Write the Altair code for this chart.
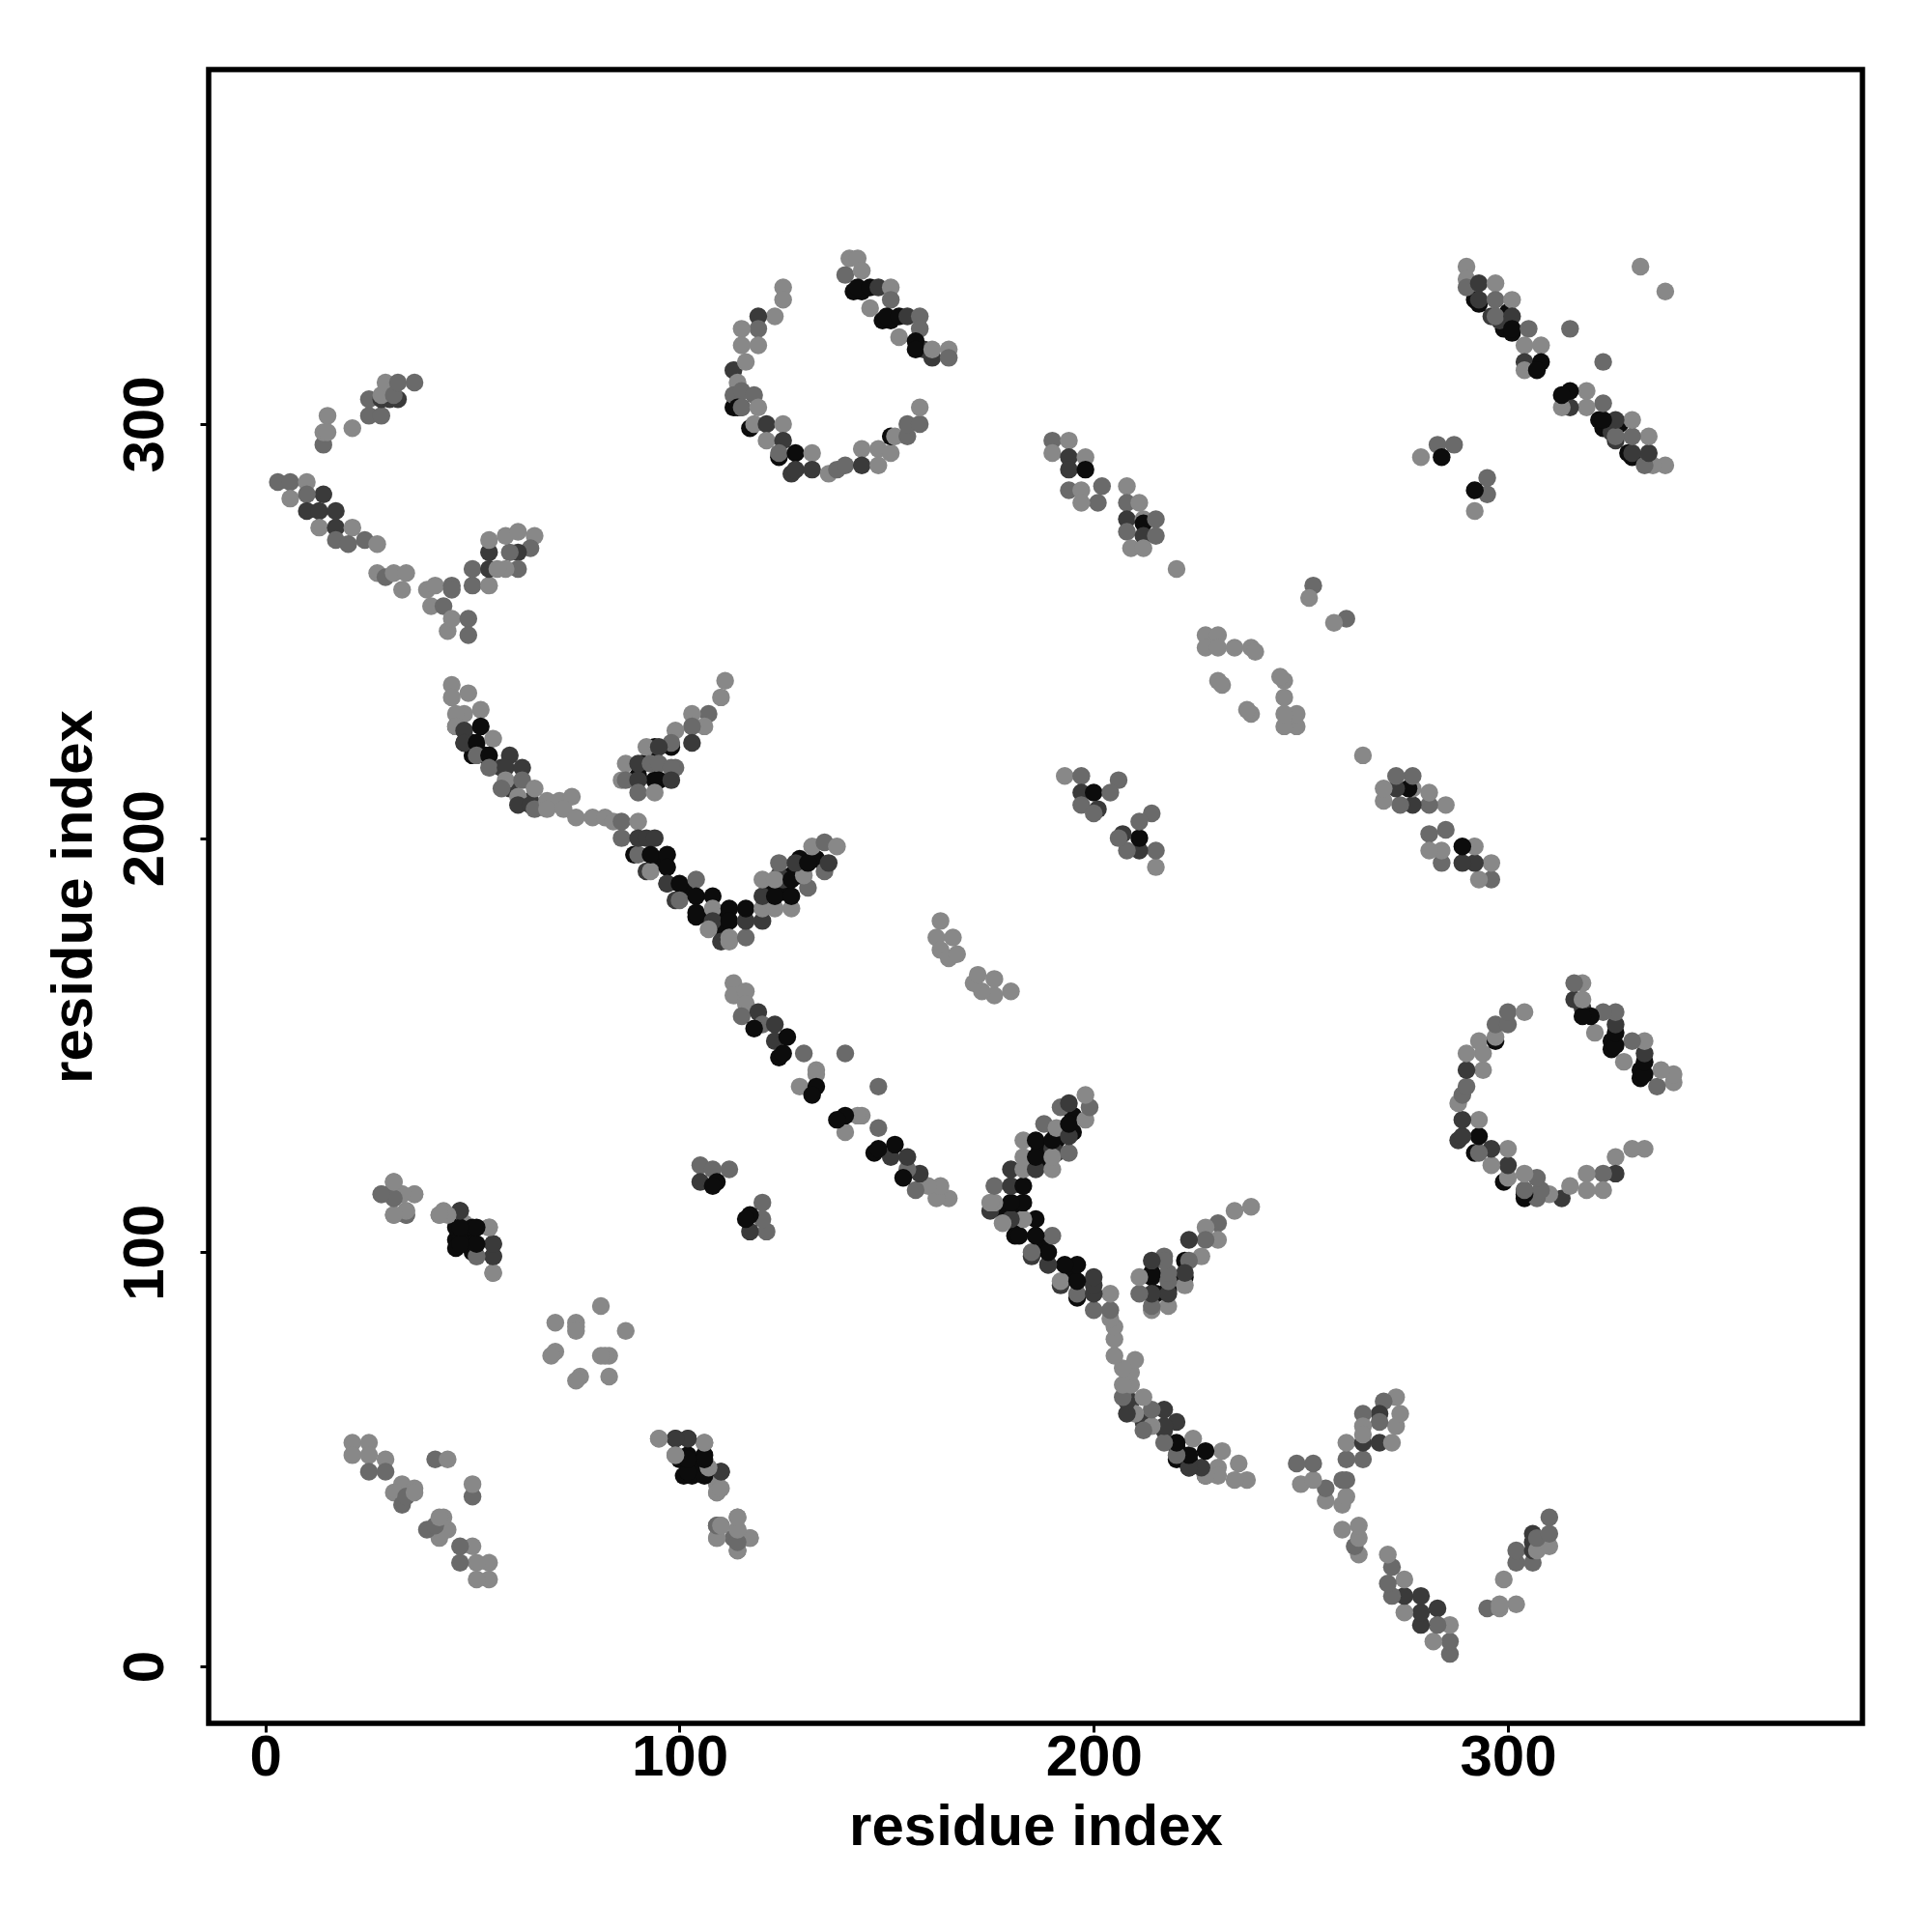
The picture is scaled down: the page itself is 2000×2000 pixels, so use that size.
import altair as alt
import pandas as pd

# gray shades
L, M, D, K = "#888888", "#6a6a6a", "#3a3a3a", "#0c0c0c"

# contacts above the diagonal (x < y): (residue i, residue j, shade); the map is symmetric
dense_core = [
    (46,227,D),(48,223,K),(50,223,K),(50,220,K),(53,220,K),(57,217,D),(59,212,D),(64,209,D),
    (89,196,K),(94,195,K),(92,192,D),(97,189,D),(101,188,K),(99,185,D),(104,181,K),(107,181,K),(111,182,K),
    (110,178,K),(110,175,D),(122,187,K),(125,187,K),(127,191,K),(129,191,K),(125,190,D),(124,191,D),(129,195,K),(133,195,K),
    (94,222,K),(98,222,K),(91,218,K),(94,218,K),(90,215,K),(94,214,K),(99,217,M),
    (113,304,K),(115,304,D),(117,299,K),(124,292,K),(127,288,D),
    (142,332,K),(144,332,K),(149,325,K),(151,325,K),(159,318,D),
    (292,330,K),(299,323,K),(301,322,K),(296,326,D),(298,325,D),(300,327,K),(293,329,K),
    (46,103,K),(49,105,K),(100,50,K),(103,47,K),(101,46,K),(124,147,K),
]
upper_left = [
    (15,302,L),(14,295,M),(14,298,L),(15,298,L),(21,299,L),
    (25,302,M),(25,306,M),(28,302,M),(28,306,D),(30,306,D),(32,306,D),(28,307,L),(29,310,L),
    (31,307,M),(32,310,M),(36,310,M),
    (3,286,M),(6,286,M),(10,286,L),(6,282,L),(14,283,D),(10,283,M),(10,279,D),(13,279,D),(17,279,D),
    (13,275,L),(17,275,D),(21,275,L),(17,272,M),(20,271,M),(24,272,M),(27,271,L),
    (27,264,L),(29,263,M),(31,264,L),(34,264,L),(33,260,L),
    (39,260,L),(41,261,L),(45,261,M),(45,260,M),(40,256,L),(43,256,M),(44,250,L),(45,253,L),(49,253,M),(49,249,M),
    (50,265,M),(50,261,M),(54,261,L),(54,265,D),(54,269,D),(54,272,L),(58,273,L),(61,274,L),(65,273,L),
    (64,270,M),(61,269,D),(59,269,M),(61,265,M),(58,265,L),(56,265,L),
]
long_arm = [
    (45,237,L),(49,235,L),(45,234,L),(48,230,L),(52,231,L),(46,230,L),(46,227,L),(48,226,D),(52,227,K),
    (48,223,D),(51,223,K),(55,224,L),(51,220,M),(54,220,K),(59,220,D),(54,217,M),(58,217,D),(62,217,D),
    (58,214,L),(62,214,M),(57,212,M),(61,210,L),(61,208,D),(64,208,D),(65,212,L),(65,207,M),
    (68,209,L),(71,209,L),(74,210,L),(68,207,L),(72,207,L),(75,205,L),(79,205,L),(82,205,L),(84,204,L),
    (86,204,M),(86,200,M),(90,204,L),(90,196,M),(90,200,D),(92,200,D),(94,200,D),(93,192,L),(93,196,K),
    (97,196,K),(97,193,K),(97,189,D),(100,189,K),(100,185,M),(104,190,M),(104,186,K),(108,186,K),(104,182,K),
    (108,183,L),(108,180,D),(107,178,L),(112,183,K),(112,180,K),(112,176,L),(112,175,L),(116,176,M),
    (116,180,D),(120,180,D),(116,183,K),(120,183,L),(120,186,D),(123,183,L),(127,183,L),(123,186,K),(127,186,K),
    (120,190,L),(123,190,L),(127,190,K),(131,188,M),(130,191,L),(124,194,M),(128,194,D),(131,194,K),
    (135,192,M),(136,194,D),(132,198,L),(135,199,M),(138,198,L),
]
branch = [
    (111,238,L),(110,234,L),(107,230,M),(103,230,L),(106,227,L),(103,227,M),(103,223,D),(99,226,L),(98,223,M),
    (92,222,L),(95,222,D),(87,218,L),(90,218,D),(93,218,M),(95,218,M),(98,217,M),(86,214,L),(87,214,M),
    (90,214,D),(95,214,K),(98,214,D),(90,211,M),(94,211,L),
]
circle_a = [
    (125,333,L),(125,330,L),(123,326,L),(119,326,D),(119,323,M),(115,323,L),(115,319,L),(119,319,L),
    (113,313,D),(116,315,L),(114,310,L),(113,307,M),(115,308,M),(118,307,M),(114,304,K),(115,304,M),(119,304,L),
    (118,300,L),(121,300,D),(121,296,L),(125,300,L),(125,296,D),(124,293,M),(128,293,K),(132,293,L),
    (128,289,D),(132,289,D),(136,288,L),(138,289,M),(140,290,M),(144,294,L),(144,290,D),(148,294,L),(148,290,L),
    (151,293,L),(151,297,K),(152,297,L),(155,297,M),(155,300,M),(158,300,M),(158,304,L),
]
circle_b = [
    (141,340,L),(143,340,L),(140,336,M),(144,337,L),(143,333,K),(146,333,K),(148,333,D),(151,333,L),(151,330,M),
    (146,328,L),(150,326,K),(153,326,K),(155,326,D),(158,326,M),(158,323,M),(153,321,L),(157,320,K),(157,318,K),
    (161,316,D),(161,318,L),(165,318,L),(165,316,M),
]
far_right = [
    (190,296,M),(194,296,L),(190,293,L),(194,292,D),(194,289,D),(198,292,L),(198,289,K),(194,284,M),(197,284,L),
    (202,285,M),(201,281,M),(197,281,L),
    (208,285,L),(208,281,M),(208,277,D),(211,281,L),(212,277,L),(212,276,K),(215,277,M),(208,274,M),(212,273,D),
    (215,273,M),(209,270,L),(212,270,L),(220,265,L),
    (253,261,M),(252,258,L),(227,249,L),(230,249,L),(227,246,L),(230,246,L),(234,246,L),(238,246,L),(239,245,L),
    (230,238,L),(231,237,L),
    (193,215,L),(197,215,M),(206,214,M),(197,211,D),(200,211,K),(204,211,M),(197,208,M),(201,207,D),(200,206,M),
    (163,180,L),(162,176,L),(166,176,L),(163,173,L),(165,171,L),(167,172,L),
]
top_right = [
    (290,338,L),(290,335,L),(290,333,M),(293,334,D),(297,334,L),(293,330,D),(297,330,M),(301,330,L),(297,326,M),
    (301,326,D),(301,323,K),(305,323,M),(304,319,L),(308,319,L),(304,315,D),(308,315,K),(304,313,L),(307,313,K),
    (315,323,M),(332,338,L),(283,295,M),(287,295,M),(279,292,L),(284,292,K),
]
lower_left = [
    (31,117,L),(28,114,L),(30,114,M),(33,114,L),(36,114,L),(31,109,L),(34,109,M),(34,110,L),
    (42,109,L),(43,110,L),(47,110,D),(46,106,K),(48,107,L),(50,106,K),(54,106,L),(47,102,K),(50,102,K),
    (55,102,D),(55,99,D),(51,99,L),(55,95,L),
    (81,87,L),(70,83,L),(75,83,L),(75,82,L),(75,81,L),(70,76,L),(69,75,L),
    (21,54,L),(25,54,L),(21,51,L),(25,51,L),(29,50,L),(25,47,M),(29,47,M),(41,50,M),(44,50,L),
    (33,44,L),(36,43,L),(31,42,L),(33,39,M),(34,41,M),(36,42,L),
    (95,55,L),(99,55,D),(102,55,D),(106,54,L),(99,51,M),(102,51,K),(106,51,K),(102,47,K),(106,47,K),(110,47,D),
    (109,44,L),(109,42,L),(109,34,M),(110,34,L),(109,31,L),(114,36,L),(114,33,L),(113,31,M),(117,31,L),(114,28,M),
    (105,121,M),(108,120,M),(112,120,M),(105,117,D),(109,117,K),(108,116,K),
    (113,165,L),(113,162,L),(116,163,L),(116,160,L),(115,157,M),(119,158,D),(120,155,M),(118,154,K),(123,155,D),
    (123,151,D),(126,152,K),(125,148,K),(130,148,M),(133,144,L),(133,143,L),(129,140,L),(133,140,K),(132,138,K),
    (140,148,M),
]

tick_values = [0, 100, 200, 300]
axis_title = "residue index"

groups = [dense_core, upper_left, long_arm, branch, circle_a, circle_b, far_right, top_right, lower_left]
rows = []
for group in groups:
    for i, j, shade in group:
        rows.append({"x": i, "y": j, "shade": shade})
for group in groups:
    for i, j, shade in group:
        rows.append({"x": j, "y": i, "shade": shade})
df = pd.DataFrame(rows)

font = "Liberation Sans"
x_axis = alt.Axis(values=tick_values, grid=False, domain=False, tickColor="black", tickSize=9, tickWidth=3,
                  labelFont=font, labelFontSize=60,
                  labelFontWeight="bold", labelColor="black", labelPadding=-3, title=axis_title,
                  titleFont=font, titleFontSize=60, titleFontWeight="bold", titleColor="black", titlePadding=13)
y_axis = alt.Axis(values=tick_values, grid=False, domain=False, tickColor="black", tickSize=9, tickWidth=3,
                  labelFont=font, labelFontSize=60, labelFontWeight="bold", labelColor="black", labelAngle=-90,
                  labelAlign="center", labelBaseline="bottom", labelPadding=26, title=axis_title,
                  titleFont=font, titleFontSize=60, titleFontWeight="bold", titleColor="black", titlePadding=13)

chart = (
    alt.Chart(df)
    .mark_circle(opacity=1, size=340, stroke=None)
    .encode(
        x=alt.X("x:Q", scale=alt.Scale(domain=[-13.7, 385.6], nice=False, zero=False), axis=x_axis),
        y=alt.Y("y:Q", scale=alt.Scale(domain=[-13.76, 385.6], nice=False, zero=False), axis=y_axis),
        color=alt.Color("shade:N", scale=None),
    )
    .properties(width=1712, height=1712, autosize="none", background="white",
                padding={"left": 208, "top": 64, "right": 64, "bottom": 208})
    .configure_view(stroke="black", strokeWidth=5.5)
)

chart.save("out.html", embed_options={"renderer": "svg", "actions": False})
